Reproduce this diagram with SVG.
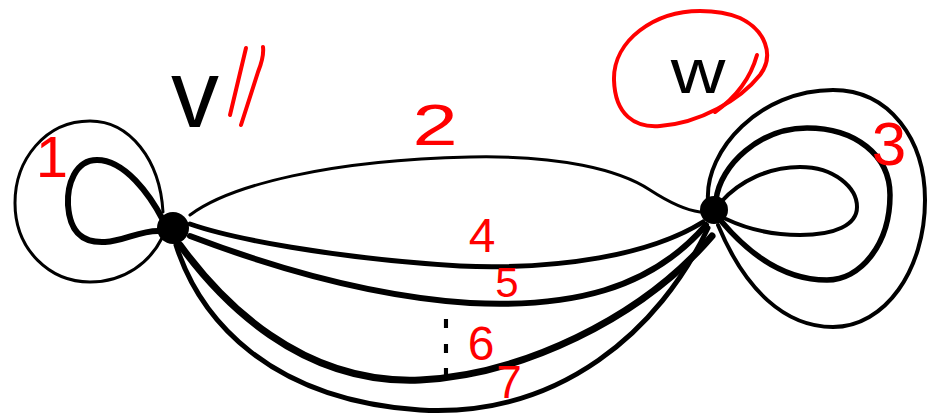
<svg xmlns="http://www.w3.org/2000/svg" width="930" height="417" viewBox="0 0 930 417">
<style>
.e{fill:none;stroke:#000;stroke-linecap:round;stroke-linejoin:round}
.r{fill:none;stroke:#ff0000;stroke-linecap:round;stroke-linejoin:round;stroke-width:4}
.lr{font-family:"Liberation Sans",Arial,sans-serif;fill:#ff0000;text-anchor:middle}
.lb{font-family:"Liberation Sans",Arial,sans-serif;fill:#000;text-anchor:middle}
</style>
<rect width="930" height="417" fill="#fff"/>
<g id="connectors">
  <path id="e1-outer" class="e" stroke-width="3" d="M163,212 C160,160 130,121 90,121 C45,121 15,160 15,203 C15,250 50,282 90,282 C125,282 150,262 162,238"/>
  <path id="e1-inner" class="e" stroke-width="6" d="M163,220 C150,195 125,160 97,160 C75,160 67,185 68,205 C70,235 85,243 105,242 C125,241 140,230 160,231"/>
  <path id="e2" class="e" stroke-width="3" d="M190,215 C230,185 330,160 470,157 C560,155 620,170 650,190 C670,203 685,210 700,212"/>
  <path id="e4" class="e" stroke-width="5" d="M190,224 C230,238 330,258 460,266 C560,270 650,255 703,222"/>
  <path id="e5" class="e" stroke-width="6" d="M190,236 C240,255 350,295 470,303 C570,308 650,290 706,225"/>
  <path id="e6" class="e" stroke-width="7" stroke-linecap="butt" d="M180,245 C220,300 300,385 420,380 C520,375 640,320 712,236"/>
  <path id="e7" class="e" stroke-width="5" d="M176,245 C200,320 270,400 420,410 C560,418 660,330 708,228"/>
  <path id="e3-inner" class="e" stroke-width="4" d="M720,203 C740,180 770,167 800,167 C835,167 857,188 857,207 C857,225 835,235 800,235 C770,235 745,228 726,219"/>
  <path id="e3-mid" class="e" stroke-width="5.5" d="M716,200 C720,165 760,128 807,128 C855,128 890,155 890,195 C890,245 860,280 827,280 C785,280 750,255 722,222"/>
  <path id="e3-outer" class="e" stroke-width="4" d="M708,200 C705,150 760,90 833,90 C890,90 925,140 925,200 C925,270 885,327 833,327 C785,327 745,290 718,225"/>
</g>
<g id="node-v">
  <circle cx="173" cy="228" r="16" fill="#000"/>
  <text class="lb" x="195" y="127" font-size="96">v</text>
  <path class="r" d="M246,48 L230,115"/>
  <path class="r" d="M263,47 C264,55 262,62 258,72 L241,125"/>
</g>
<g id="node-w">
  <circle cx="714" cy="210" r="14" fill="#000"/>
  <text class="lb" transform="translate(698,93) scale(1.2,1)" font-size="63">w</text>
  <path class="r" d="M700,11 C655,11 613,40 614,80 C615,115 635,128 660,126 C700,123 740,100 760,75 C775,55 765,30 740,18 C728,13 715,11 700,11"/>
  <path class="r" d="M715,112 C735,98 750,80 757,55"/>
</g>
<g id="labels">
  <text class="lr" x="52" y="177" font-size="58">1</text>
  <text class="lr" transform="translate(435,145) scale(1.4,1)" font-size="58">2</text>
  <text class="lr" x="889" y="165" font-size="62">3</text>
  <text class="lr" x="482" y="252" font-size="48">4</text>
  <text class="lr" x="507" y="297" font-size="42">5</text>
  <text class="lr" x="481" y="360" font-size="48">6</text>
  <text class="lr" x="509" y="398" font-size="46">7</text>
  <text class="lb" transform="translate(446,370) scale(1,1.8)" font-size="40" font-family="DejaVu Sans, sans-serif">⋮</text>
</g>
</svg>
